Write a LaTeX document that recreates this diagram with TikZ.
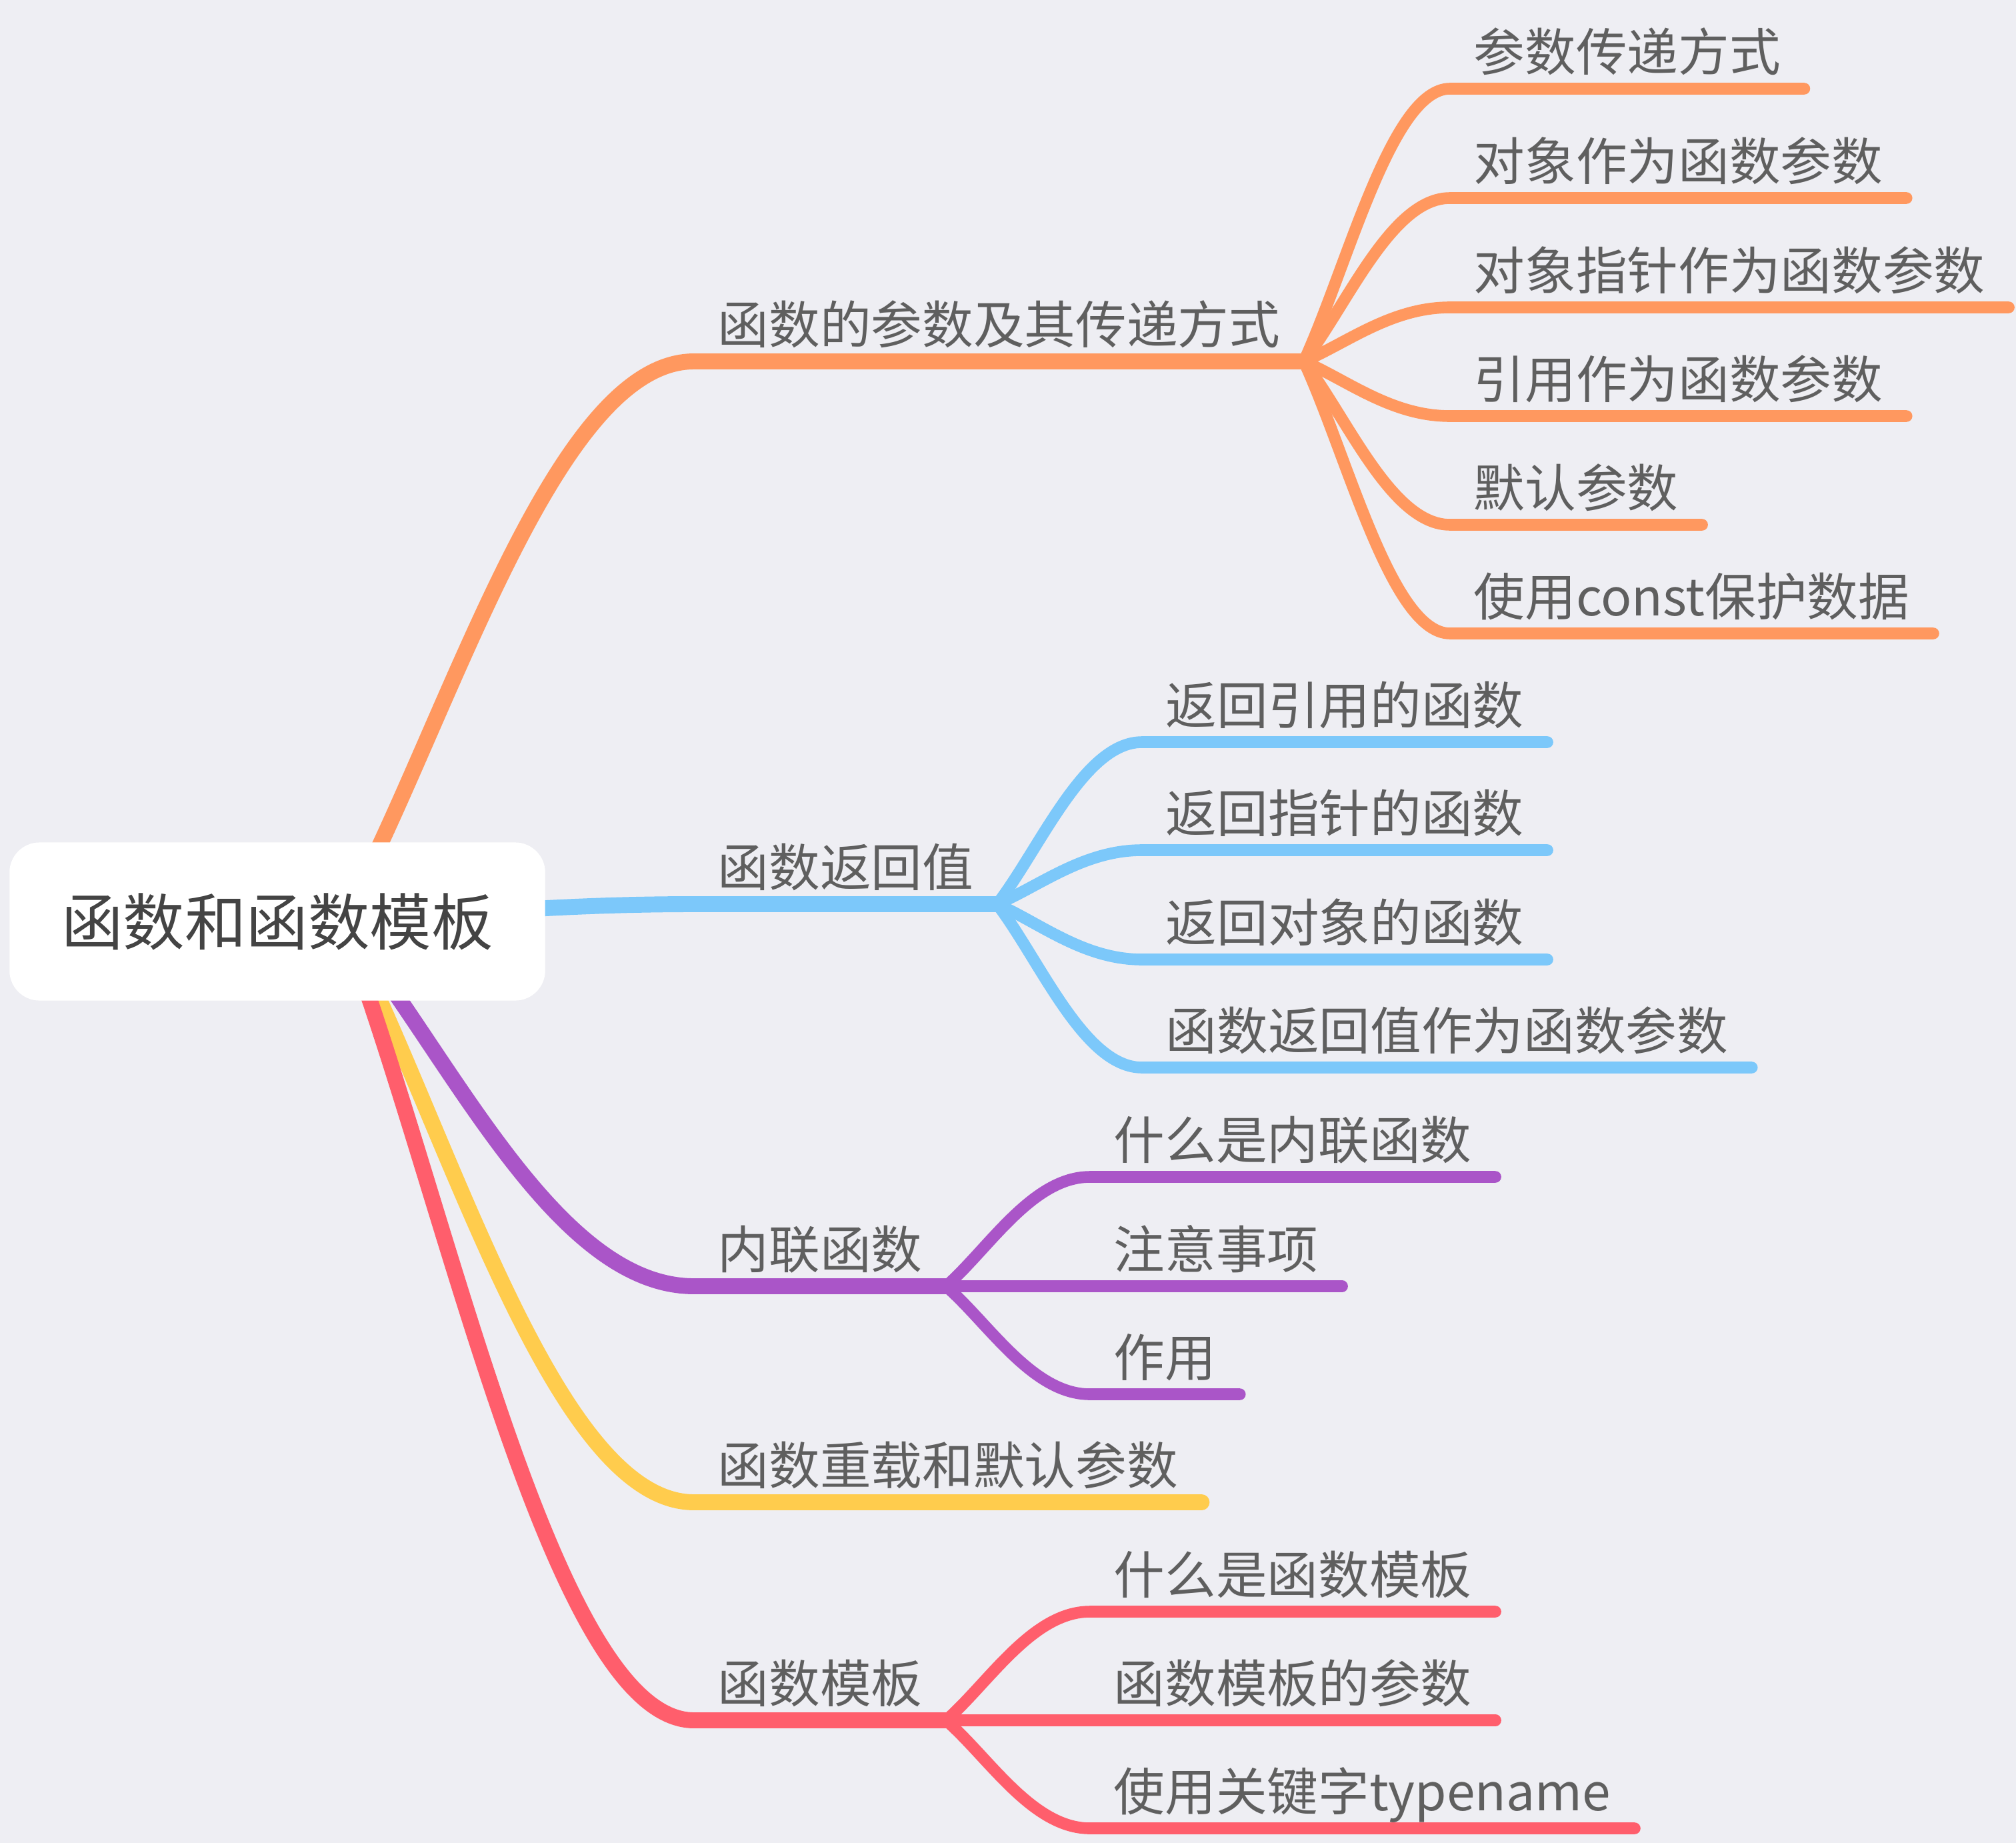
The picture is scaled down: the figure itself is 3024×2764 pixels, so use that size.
\documentclass[tikz,border=0pt]{standalone}
\usepackage{fontspec}
\setmainfont{Noto Sans CJK SC}
\usetikzlibrary{calc,positioning}
\definecolor{paper}{HTML}{EEEEF3}
\definecolor{orng}{HTML}{FF985F}
\definecolor{skyb}{HTML}{7CC8FA}
\definecolor{plum}{HTML}{AA55C8}
\definecolor{ambr}{HTML}{FFCC4D}
\definecolor{rose}{HTML}{FF5E6C}
\definecolor{inkgray}{HTML}{5F5F5F}
\definecolor{rootgray}{HTML}{444444}
\tikzset{
  rootbox/.style={fill=white, rounded corners=0.45cm, minimum width=8.03cm,
                  minimum height=2.37cm, inner sep=0pt, text=rootgray,
                  font=\fontsize{26.3pt}{30pt}\selectfont},
  lbl/.style    ={anchor=south west, inner xsep=0.35cm, inner ysep=0pt,
                  text height=0.6cm, text depth=0.26cm, text=inkgray,
                  font=\fontsize{21.8pt}{26pt}\selectfont},
  limb/.style   ={line width=6.8pt, line cap=round, line join=round},
  twig/.style   ={line width=5pt, line cap=round, line join=round},
  swoop/.style  ={to path={let \p1=(\tikztostart), \p2=(\tikztotarget) in
                  .. controls ({\x1+0.3*(\x2-\x1)},{\y1+0.35*(\y2-\y1)})
                  and ({\x1+0.6*(\x2-\x1)},\y2) .. (\tikztotarget)}},
}
\begin{document}
\begin{tikzpicture}[x=0.01cm, y=-0.01cm]
\useasboundingbox[fill=paper] (0,0) rectangle (3024,2764);
% main topics
\node[lbl] (b1) at (1041,542)  {函数的参数及其传递方式};
\node[lbl] (b2) at (1041,1356) {函数返回值};
\node[lbl] (b3) at (1041,1929) {内联函数};
\node[lbl] (b4) at (1041,2253) {函数重载和默认参数};
\node[lbl] (b5) at (1041,2580) {函数模板};
% subtopics
\node[lbl] (p1) at (2175,133)  {参数传递方式};
\node[lbl] (p2) at (2175,297)  {对象作为函数参数};
\node[lbl] (p3) at (2175,461)  {对象指针作为函数参数};
\node[lbl] (p4) at (2175,624)  {引用作为函数参数};
\node[lbl] (p5) at (2175,787)  {默认参数};
\node[lbl] (p6) at (2175,950)  {使用const保护数据};
\node[lbl] (r1) at (1713,1113) {返回引用的函数};
\node[lbl] (r2) at (1713,1275) {返回指针的函数};
\node[lbl] (r3) at (1713,1439) {返回对象的函数};
\node[lbl] (r4) at (1713,1601) {函数返回值作为函数参数};
\node[lbl] (i1) at (1635,1765) {什么是内联函数};
\node[lbl] (i2) at (1635,1929) {注意事项};
\node[lbl] (i3) at (1635,2091) {作用};
\node[lbl] (t1) at (1635,2417) {什么是函数模板};
\node[lbl] (t2) at (1635,2580) {函数模板的参数};
\node[lbl] (t3) at (1635,2742) {使用关键字typename};
% branches
\coordinate (hub) at (513,1382);
\draw[limb, orng] (hub) to[swoop] (b1.south west) -- (b1.south east);
\draw[limb, skyb] (hub) to[swoop] (b2.south west) -- (b2.south east);
\draw[limb, plum] (hub) to[swoop] (b3.south west) -- (b3.south east);
\draw[limb, ambr] (hub) to[swoop] (b4.south west) -- (b4.south east);
\draw[limb, rose] (hub) to[swoop] (b5.south west) -- (b5.south east);
\foreach \c in {p1,p2,p3,p4,p5,p6}
  \draw[twig, orng] (b1.south east) to[swoop] (\c.south west) -- (\c.south east);
\foreach \c in {r1,r2,r3,r4}
  \draw[twig, skyb] (b2.south east) to[swoop] (\c.south west) -- (\c.south east);
\foreach \c in {i1,i2,i3}
  \draw[twig, plum] (b3.south east) to[swoop] (\c.south west) -- (\c.south east);
\foreach \c in {t1,t2,t3}
  \draw[twig, rose] (b5.south east) to[swoop] (\c.south west) -- (\c.south east);
% central topic
\node[rootbox] (root) at (416,1382) {函数和函数模板};
\end{tikzpicture}
\end{document}
